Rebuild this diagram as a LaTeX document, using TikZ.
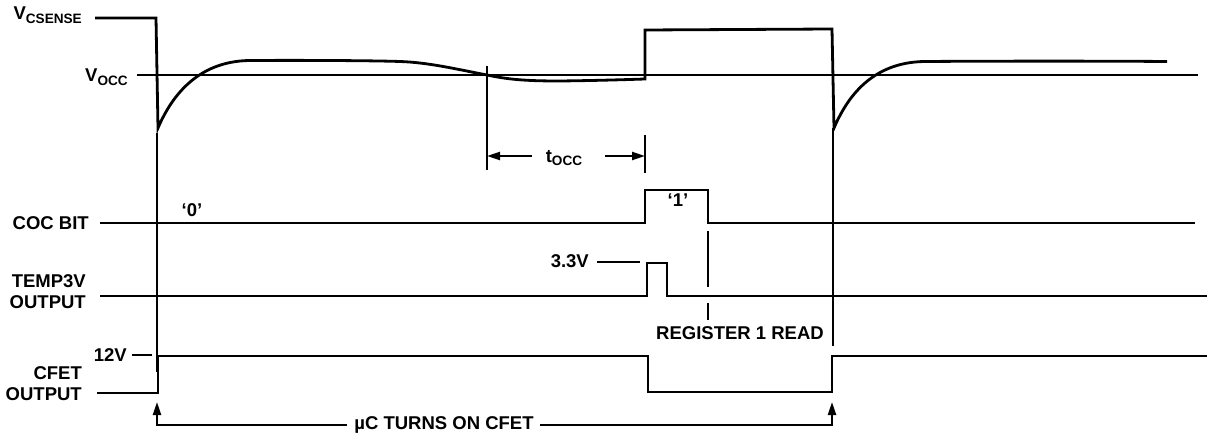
\documentclass[tikz,border=0pt]{standalone}
\usepackage{fontspec}
\setmainfont{Liberation Sans}
\usetikzlibrary{arrows.meta}
\newcommand{\lblfont}{\fontsize{18.5}{21}\selectfont\bfseries}
\newcommand{\subtx}[2]{\raisebox{-#1}{\fontsize{13.6}{14}\selectfont\bfseries #2}}
\begin{document}
\begin{tikzpicture}[x=1pt,y=-1pt,
  sig/.style={line width=2.8pt, line join=miter},
  mk/.style={line width=2.2pt},
  tickln/.style={line width=1.8pt},
  lab/.style={inner sep=0pt, font=\lblfont},
  tip/.style={-{Triangle[length=13pt,width=8pt]}}
]
\useasboundingbox (0,0) rectangle (1207,438);
\fill[white] (0,0) rectangle (1207,438);

% labels
\node[lab, anchor=base east] (vcs) at (82,20) {V\subtx{4pt}{CSENSE}};
\node[lab, anchor=base east] (vocc) at (128,82) {V\subtx{4pt}{OCC}};
\node[lab, anchor=base east] (coc) at (89,229.5) {COC BIT};
\node[lab, anchor=base east] (tmpa) at (86,287.5) {TEMP3V};
\node[lab, anchor=base east] (tmpb) at (86,308.5) {OUTPUT};
\node[lab, anchor=base east] (cfa) at (82,379.5) {CFET};
\node[lab, anchor=base east] (cfb) at (82,400) {OUTPUT};
\node[lab, anchor=base east] (vtw) at (127,361.5) {12V};
\node[lab, anchor=base east] (vtt) at (589,268) {3.3V};
\node[lab, anchor=base] (bz) at (192,217) {‘0’};
\node[lab, anchor=base] (bo) at (678,207) {‘1’};
\node[lab, anchor=base] (tocc) at (564,163) {t\subtx{3pt}{OCC}};
\node[lab, anchor=base] (reg) at (740,339) {REGISTER 1 READ};
\node[lab, anchor=base] (uc) at (444,429) {µC TURNS ON CFET};

% VCSENSE waveform
\draw[sig] (95,18) -- (156,18) -- (158,128)
  .. controls (170,100) and (195,61) .. (250,60.5)
  .. controls (300,60.2) and (370,60.5) .. (400,61.5)
  .. controls (430,62.5) and (460,70) .. (487,75)
  .. controls (510,80) and (530,81) .. (560,81)
  .. controls (600,80.5) and (630,79.5) .. (645,79)
  -- (645,30) -- (832,29) -- (834,128)
  .. controls (846,100) and (870,62) .. (925,61.5)
  .. controls (1000,61) and (1100,61) .. (1167,61.5);
% VOCC level
\draw[sig] (137,75) -- (1198,75);

% COC BIT
\draw[sig] (100,223) -- (645,223) -- (645,190) -- (708,190) -- (708,223) -- (1195,223);
% TEMP3V OUTPUT
\draw[sig] (100,296) -- (647,296) -- (647,263) -- (667,263) -- (667,296) -- (1207,296);
% CFET OUTPUT
\draw[sig] (97,393) -- (158,393) -- (158,356) -- (648,356) -- (648,392) -- (832,392) -- (832,356) -- (1207,356);

% level ticks
\draw[tickln] ([xshift=5pt]vtw.east) -- ++(20,0);
\draw[tickln] ([xshift=8pt]vtt.east) -- ++(43,0);

% marker lines
\draw[mk] (157,133) -- (157,372);
\draw[mk] (833,128) -- (833,346);
\draw[mk] (487,66) -- (487,170);
\draw[mk] (645,135) -- (645,173);
\draw[mk] (708,231) -- (708,287);
\draw[mk] (708,303) -- (708,320);

% tOCC arrows
\coordinate (tl) at (532,156);
\coordinate (tla) at (487,156);
\coordinate (tr) at (605,156);
\coordinate (tra) at (645,156);
\draw[mk,tip] (tl) -- (tla);
\draw[mk,tip] (tr) -- (tra);

% bottom bracket
\coordinate (bl) at (347,425);
\coordinate (blc) at (157,425);
\coordinate (bla) at (157,402);
\coordinate (br) at (540,425);
\coordinate (brc) at (832,425);
\coordinate (bra) at (832,402);
\draw[mk,tip] (bl) -- (blc) -- (bla);
\draw[mk,tip] (br) -- (brc) -- (bra);
\end{tikzpicture}
\end{document}
